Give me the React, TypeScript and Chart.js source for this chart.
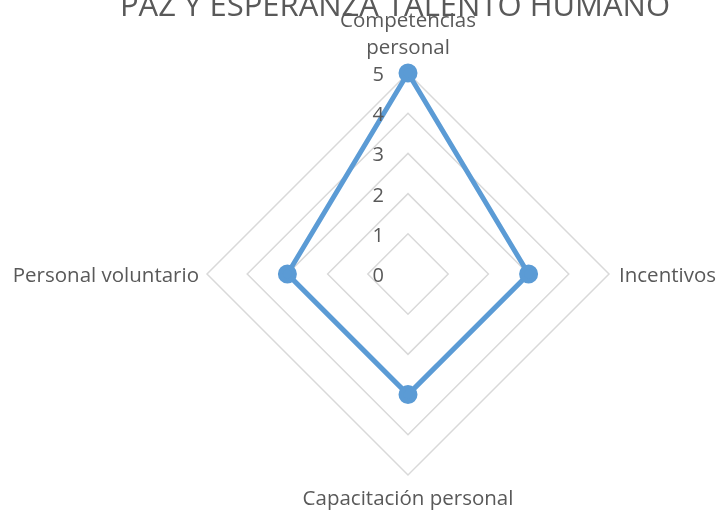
import React, { useEffect, useRef } from "react";
import { Chart, registerables } from "chart.js";

Chart.register(...registerables);

const titleText = "PAZ Y ESPERANZA TALENTO HUMANO";
const categories: string[][] = [
  ["Competencias", "personal"],
  ["Incentivos"],
  ["Capacitación personal"],
  ["Personal voluntario"],
];
const seriesName = "Serie 1";
const seriesValues = [5, 3, 3, 3];
const tickMin = 0;
const tickMax = 5;
const tickStep = 1;

const FONT = '"Open Sans", "Noto Sans", sans-serif';
const TEXT_COLOR = "#595959";

const textPlugin = {
  id: "customText",
  afterDatasetsDraw(chart: any) {
    const scale = chart.scales.r;
    const ctx = chart.ctx as CanvasRenderingContext2D;
    ctx.save();
    ctx.fillStyle = TEXT_COLOR;
    ctx.textBaseline = "alphabetic";

    // tick labels, left of the vertical axis
    ctx.font = `20px ${FONT}`;
    ctx.textAlign = "right";
    scale.ticks.forEach((t: any) => {
      const d = scale.getDistanceFromCenterForValue(t.value);
      ctx.fillText(String(t.label), scale.xCenter - 24, scale.yCenter - d + 8);
    });

    // point labels
    const r = scale.drawingArea;
    categories.forEach((lines, i) => {
      const p = scale.getPointPosition(i, r);
      ctx.font = `20.5px ${FONT}`;
      if (i === 0) {
        ctx.textAlign = "center";
        const lh = 27;
        const n = lines.length;
        lines.forEach((ln, k) => {
          ctx.fillText(ln, p.x, p.y - 19 - (n - 1 - k) * lh);
        });
      } else if (i === 1) {
        ctx.textAlign = "left";
        ctx.fillText(lines.join(" "), p.x + 10, p.y + 8);
      } else if (i === 2) {
        ctx.textAlign = "center";
        ctx.fillText(lines.join(" "), p.x, p.y + 30);
      } else {
        ctx.textAlign = "right";
        ctx.fillText(lines.join(" "), p.x - 8, p.y + 8);
      }
    });

    // title (partly above the canvas, as in the reference)
    ctx.font = `31px ${FONT}`;
    ctx.textAlign = "center";
    ctx.fillText(titleText, 395, 16);
    ctx.restore();
  },
};

export default function App() {
  const ref = useRef<HTMLCanvasElement | null>(null);
  useEffect(() => {
    if (!ref.current) return;
    const chart = new Chart(ref.current, {
      type: "radar",
      data: {
        labels: categories.map((c) => c.join(" ")),
        datasets: [
          {
            label: seriesName,
            data: seriesValues,
            borderColor: "#5b9bd5",
            backgroundColor: "#5b9bd5",
            pointBackgroundColor: "#5b9bd5",
            pointBorderColor: "#5b9bd5",
            borderWidth: 5,
            pointRadius: 7,
            fill: false,
          },
        ],
      },
      options: {
        animation: false,
        responsive: false,
        layout: { padding: { left: 207, right: 112, top: 73, bottom: 35 } },
        plugins: {
          legend: { display: false },
          title: { display: false },
          tooltip: { enabled: false },
        },
        scales: {
          r: {
            min: tickMin,
            max: tickMax,
            beginAtZero: true,
            ticks: { stepSize: tickStep, display: false },
            pointLabels: { display: false },
            angleLines: { display: false },
            grid: { color: "#d9d9d9", lineWidth: 1.5 },
          },
        },
      },
      plugins: [textPlugin],
    });
    return () => chart.destroy();
  }, []);
  return (
    <div style={{ position: "absolute", left: 0, top: 0, width: 721, height: 510, background: "#fff" }}>
      <canvas ref={ref} width={721} height={510} />
    </div>
  );
}
